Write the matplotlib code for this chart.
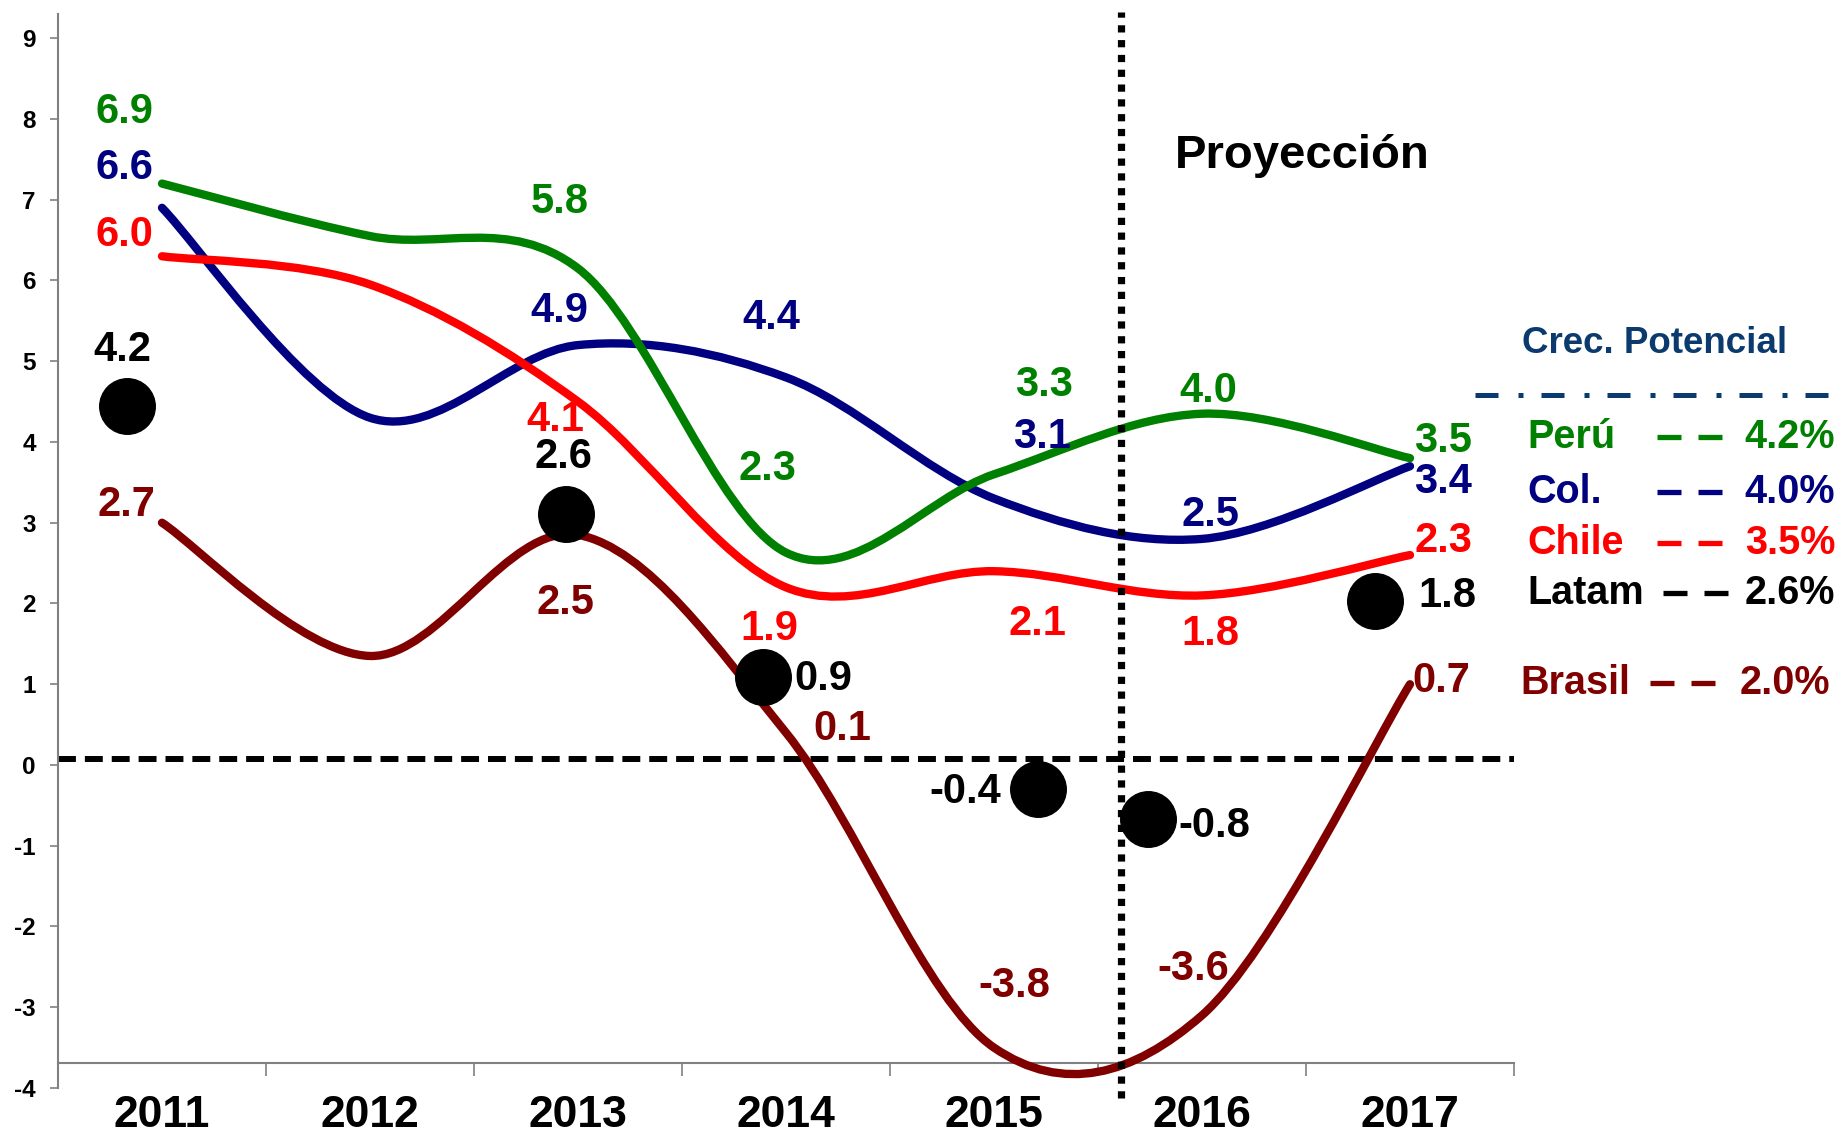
import numpy as np
import matplotlib
matplotlib.use("Agg")
import matplotlib.pyplot as plt
from matplotlib.path import Path
from matplotlib.patches import PathPatch

plt.rcParams["font.family"] = ["Liberation Sans", "DejaVu Sans"]
plt.rcParams["font.weight"] = "bold"

years = ["2011", "2012", "2013", "2014", "2015", "2016", "2017"]

# line values
peru = [7.2, 6.55, 6.15, 2.63, 3.6, 4.35, 3.8]
colombia = [6.9, 4.3, 5.2, 4.8, 3.3, 2.8, 3.7]
chile = [6.3, 5.95, 4.5, 2.2, 2.4, 2.1, 2.6]
brasil = [3.0, 1.35, 2.85, 0.4, -3.5, -3.1, 1.0]

# Latam dots (x in category units)
latam_x = [0.33, 2.44, 3.39, 4.71, 5.24, 6.33]
latam_y = [4.44, 3.11, 1.09, -0.30, -0.67, 2.03]

# data label texts
peru_txt = ["6.9", "5.8", "2.3", "3.3", "4.0", "3.5"]
col_txt = ["6.6", "4.9", "4.4", "3.1", "2.5", "3.4"]
chile_txt = ["6.0", "4.1", "1.9", "2.1", "1.8", "2.3"]
brasil_txt = ["2.7", "2.5", "0.1", "-3.8", "-3.6", "0.7"]
latam_txt = ["4.2", "2.6", "0.9", "-0.4", "-0.8", "1.8"]

# potential growth box
pot_names = ["Perú", "Col.", "Chile", "Latam", "Brasil"]
pot_values = [4.2, 4.0, 3.5, 2.6, 2.0]

latam_ref = 0.08
proj_x = 5.11

GREEN = "#008000"
BLUE = "#000080"
RED = "#ff0000"
BROWN = "#800000"
NAVY = "#0b3a6e"

# label positions (layout only)
peru_pos = [(0.32, 8.09), (2.41, 6.97), (3.41, 3.67), (4.74, 4.70), (5.53, 4.63), (6.66, 4.01)]
col_pos = [(0.32, 7.39), (2.41, 5.62), (3.43, 5.53), (4.73, 4.06), (5.54, 3.10), (6.66, 3.50)]
chile_pos = [(0.32, 6.56), (2.39, 4.27), (3.42, 1.69), (4.71, 1.75), (5.54, 1.62), (6.66, 2.78)]
brasil_pos = [(0.33, 3.22), (2.44, 2.01), (3.77, 0.445), (4.60, -2.74), (5.46, -2.53), (6.65, 1.04)]
latam_pos = [(0.31, 5.14), (2.43, 3.82), (3.68, 1.07), (4.36, -0.34), (5.56, -0.75), (6.68, 2.09)]


def smooth_path(values):
    # excel-like smoothed line: cubic bezier, catmull-rom tangents
    pts = np.column_stack([np.arange(len(values)) + 0.5, values])
    verts = [pts[0]]
    codes = [Path.MOVETO]
    n = len(pts)
    for i in range(n - 1):
        p0 = pts[max(i - 1, 0)]
        p1 = pts[i]
        p2 = pts[i + 1]
        p3 = pts[min(i + 2, n - 1)]
        verts += [p1 + (p2 - p0) / 6.0, p2 - (p3 - p1) / 6.0, p2]
        codes += [Path.CURVE4] * 3
    return Path(verts, codes)


fig = plt.figure(figsize=(18.41, 11.33), dpi=100)
ax = fig.add_axes([58 / 1841, 45 / 1133, (1514 - 58) / 1841, (1119 - 45) / 1133])
ax.set_xlim(0, 7)
ax.set_ylim(-4, 9.3)

for vals, col in [(colombia, BLUE), (chile, RED), (peru, GREEN), (brasil, BROWN)]:
    ax.add_patch(PathPatch(smooth_path(vals), facecolor="none", edgecolor=col,
                           lw=6, capstyle="round", joinstyle="round", zorder=3))

ax.plot([0, 7], [latam_ref, latam_ref], color="black", lw=4.3, dashes=(3, 1.5), zorder=2)
ax.plot([proj_x, proj_x], [-4.12, 9.33], color="black", lw=5.2, dashes=(1, 1.05),
        solid_capstyle="butt", dash_capstyle="butt", clip_on=False, zorder=4)

ax.scatter(latam_x, latam_y, s=1600, color="black", zorder=5)

for txts, poss, col in [(peru_txt, peru_pos, GREEN), (col_txt, col_pos, BLUE),
                        (chile_txt, chile_pos, RED), (brasil_txt, brasil_pos, BROWN),
                        (latam_txt, latam_pos, "black")]:
    for t, (x, y) in zip(txts, poss):
        ax.text(x, y, t, color=col, fontsize=30, fontweight="bold",
                ha="center", va="center", zorder=6, clip_on=False)

ax.text(5.98, 7.54, "Proyección", fontsize=34, fontweight="bold", ha="center", va="center")

# axes styling
for s in ["top", "right"]:
    ax.spines[s].set_visible(False)
ax.spines["left"].set_color("#808080")
ax.spines["left"].set_linewidth(1.5)
ax.spines["bottom"].set_position(("data", -3.69))
ax.spines["bottom"].set_color("#808080")
ax.spines["bottom"].set_linewidth(1.5)

ax.set_yticks(range(-4, 10))
ax.set_yticklabels([str(v) for v in range(-4, 10)], fontsize=17.5, fontweight="bold")
ax.tick_params(axis="y", length=6, width=1.2, color="#808080", pad=10)

ax.set_xticks(range(1, 8))
ax.set_xticklabels([])
ax.tick_params(axis="x", which="major", length=9, width=1.2, color="#808080")
ax.set_xticks(np.arange(7) + 0.5, minor=True)
ax.set_xticklabels(years, minor=True, fontsize=32, fontweight="bold")
ax.tick_params(axis="x", which="minor", length=0, pad=23)

# potential growth box (figure pixel layout)
H = 1133.0
fig.text(1655 / 1841, 1 - 343 / H, "Crec. Potencial", color=NAVY, fontsize=26.5,
         fontweight="bold", ha="center", va="center")
fig.add_artist(plt.Line2D([1475 / 1841, 1831 / 1841], [1 - 395 / H, 1 - 395 / H],
                          color=NAVY, lw=3.6, dashes=(4.6, 4, 1, 3.6)))

row_y = [437, 492, 543, 593, 683]
name_x = [1527, 1527, 1527, 1527, 1520]
dash_x = [1657, 1657, 1657, 1663, 1650]
val_x = [1835, 1835, 1835, 1835, 1830]
pot_colors = [GREEN, BLUE, RED, "black", BROWN]
for name, val, c, ry, nx, dx, vx in zip(pot_names, pot_values, pot_colors,
                                        row_y, name_x, dash_x, val_x):
    fy = 1 - ry / H
    fig.text(nx / 1841, fy, name, color=c, fontsize=28.5, fontweight="bold",
             ha="left", va="center")
    fig.text(vx / 1841, fy, "%.1f%%" % val, color=c, fontsize=28.5, fontweight="bold",
             ha="right", va="center")
    for off in (0, 41):
        fig.add_artist(plt.Line2D([(dx + off) / 1841, (dx + off + 24) / 1841], [fy, fy],
                                  color=c, lw=3.8, solid_capstyle="butt"))

fig.savefig("out.png", dpi=100)
